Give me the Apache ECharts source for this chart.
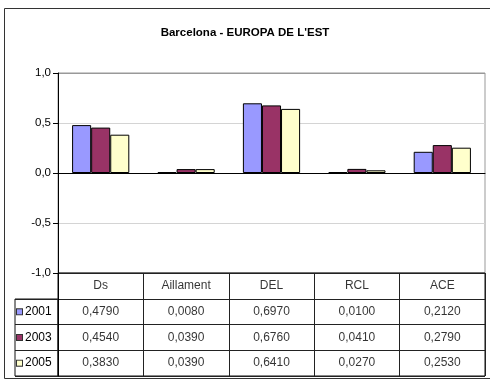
<!DOCTYPE html>
<html>
<head>
<meta charset="utf-8">
<script src="https://cdn.jsdelivr.net/npm/echarts@6/dist/echarts.min.js"></script>
<style>
  html, body { margin: 0; padding: 0; background: #fff; }
  #chart { width: 490px; height: 381px; }
</style>
</head>
<body>
<div id="chart"></div>
<script>
// Indicator values per year, Barcelona – Eastern Europe
const categories = ['Ds', 'Aillament', 'DEL', 'RCL', 'ACE'];
const years = ['2001', '2003', '2005'];
const values2001 = [0.4790, 0.0080, 0.6970, 0.0100, 0.2120];
const values2003 = [0.4540, 0.0390, 0.6760, 0.0410, 0.2790];
const values2005 = [0.3830, 0.0390, 0.6410, 0.0270, 0.2530];
const yearValues = [values2001, values2003, values2005];
const yearColors = ['#9999FF', '#993366', '#FFFFCC'];
const yMin = -1, yMax = 1, yStep = 0.5;

const FONT = 'Liberation Sans, Arial, sans-serif';
const fmt = (v, d) => v.toFixed(d).replace('.', ',');

const chart = echarts.init(document.getElementById('chart'), null, { renderer: 'canvas' });

// Rows of the data table: header row (index 0) followed by one row per year
const tableRows = ['', ...years];

// Header cells (category names) and value cells for the table
const headerCells = categories.map((c, i) => ({ value: [i, 0], label: { formatter: c } }));
const valueCells = [];
yearValues.forEach((vals, r) => {
  vals.forEach((v, i) => {
    valueCells.push({ value: [i, r + 1], label: { formatter: fmt(v, 4) } });
  });
});

const legendRich = {
  t: { fontSize: 12, fontFamily: FONT, color: '#000', padding: [0, 0, 0, 3] }
};
years.forEach((y, i) => {
  legendRich['k' + i] = {
    width: 5, height: 5, backgroundColor: yearColors[i],
    borderColor: '#333', borderWidth: 1
  };
});

const option = {
  animation: false,
  backgroundColor: '#fff',
  title: {
    text: "Barcelona - EUROPA DE L'EST",
    left: 'center',
    top: 22,
    textStyle: { fontSize: 11.5, fontWeight: 'bold', fontFamily: FONT, color: '#000' }
  },
  graphic: [{
    type: 'rect',
    shape: { x: 4.5, y: 8.5, width: 492, height: 370 },
    style: { fill: 'none', stroke: '#333', lineWidth: 1 },
    silent: true
  }],
  grid: [
    // plot area
    { left: 58, top: 73, width: 427, height: 200, show: true, borderColor: '#999', borderWidth: 1 },
    // data table (header + year rows)
    { left: 58, top: 273, width: 427, height: 103, show: true, borderColor: '#111', borderWidth: 1 },
    // legend key column
    { left: 15, top: 299, width: 43, height: 77, show: true, borderColor: '#111', borderWidth: 1 }
  ],
  xAxis: [
    {
      gridIndex: 0, type: 'category', data: categories,
      axisLine: { onZero: true, lineStyle: { color: '#000', width: 1 } },
      axisTick: { show: false }, axisLabel: { show: false }
    },
    {
      gridIndex: 1, type: 'category', data: categories,
      axisLine: { show: false }, axisTick: { show: false }, axisLabel: { show: false },
      splitLine: { show: true, lineStyle: { color: '#222', width: 1 } }
    },
    {
      gridIndex: 2, type: 'category', data: [''],
      axisLine: { show: false }, axisTick: { show: false }, axisLabel: { show: false }
    }
  ],
  yAxis: [
    {
      gridIndex: 0, type: 'value', min: yMin, max: yMax, interval: yStep,
      axisLine: { show: true, lineStyle: { color: '#000' } },
      axisTick: { show: true, length: 5, lineStyle: { color: '#000' } },
      axisLabel: {
        margin: 7, fontSize: 11.5, fontFamily: FONT, color: '#000',
        formatter: v => fmt(v, 1)
      },
      splitLine: {
        show: true,
        lineStyle: { color: ['#000', '#d4d4d4', '#000', '#d4d4d4', '#999'], width: 1 }
      }
    },
    {
      gridIndex: 1, type: 'category', data: tableRows, inverse: true,
      axisLine: { show: true, lineStyle: { color: '#000' } },
      axisTick: { show: false }, axisLabel: { show: false },
      splitLine: { show: true, lineStyle: { color: '#222', width: 1 } }
    },
    {
      gridIndex: 2, type: 'category', data: years, inverse: true,
      axisLine: { show: false }, axisTick: { show: false },
      axisLabel: {
        inside: true, margin: 2,
        formatter: (v, i) => '{k' + i + '|}{t|' + v + '}',
        rich: legendRich
      },
      splitLine: { show: true, lineStyle: { color: '#222', width: 1 } }
    }
  ],
  series: [
    ...years.map((y, i) => ({
      name: y, type: 'bar', xAxisIndex: 0, yAxisIndex: 0,
      data: yearValues[i],
      barGap: '0%', barCategoryGap: '33%',
      itemStyle: { color: yearColors[i], borderColor: '#000', borderWidth: 1 }
    })),
    {
      type: 'scatter', xAxisIndex: 1, yAxisIndex: 1, symbolSize: 0, silent: true,
      data: headerCells.concat(valueCells),
      label: {
        show: true, position: 'inside', fontSize: 12, fontFamily: FONT, color: '#000'
      }
    }
  ]
};

chart.setOption(option);
</script>
</body>
</html>
